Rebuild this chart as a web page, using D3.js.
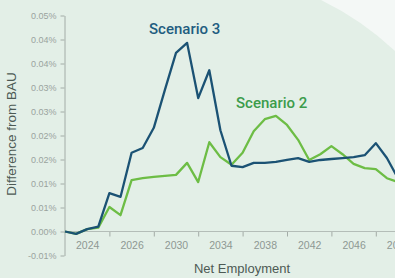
<!DOCTYPE html>
<meta charset="utf-8">
<script src="https://d3js.org/d3.v7.min.js"></script>
<style>
  body { margin: 0; background: #f4f8f6; }
  svg { display: block; font-family: "Liberation Sans", Arial, sans-serif; }
</style>
<div id="chart"></div>
<script>

// years on the x axis (one point per year)
var years = [2022, 2023, 2024, 2025, 2026, 2027, 2028, 2029, 2030, 2031,
             2032, 2033, 2034, 2035, 2036, 2037, 2038, 2039, 2040, 2041,
             2042, 2043, 2044, 2045, 2046, 2047, 2048, 2049, 2050, 2051, 2052]

// difference from BAU, in percent
var scenario3 = [0.0000, -0.0005, 0.0005, 0.0010, 0.0080, 0.0072, 0.0164, 0.0174, 0.0216, 0.0295,
                 0.0372, 0.0393, 0.0278, 0.0336, 0.0211, 0.0137, 0.0134, 0.0143, 0.0143, 0.0145,
                 0.0149, 0.0153, 0.0145, 0.0149, 0.0151, 0.0153, 0.0155, 0.0159, 0.0184, 0.0153, 0.0111]

var scenario2 = [0.0000, -0.0005, 0.0005, 0.0008, 0.0051, 0.0034, 0.0107, 0.0111, 0.0114, 0.0116,
                 0.0118, 0.0143, 0.0103, 0.0186, 0.0155, 0.0139, 0.0164, 0.0209, 0.0234, 0.0241,
                 0.0222, 0.0191, 0.0149, 0.0161, 0.0178, 0.0161, 0.0141, 0.0132, 0.0130, 0.0111, 0.0103]

// axis labels as printed on the chart
var xLabelYears = [2024, 2028, 2032, 2036, 2040, 2044, 2048, 2052]
var xLabels = ["2024", "2026", "2030", "2034", "2038", "2042", "2046", "2050"]
var xTickYears = [2026, 2030, 2034, 2038, 2042, 2046, 2050]

var yTicks = [-0.005, 0, 0.005, 0.01, 0.015, 0.02, 0.025, 0.03, 0.035, 0.04, 0.045]
var yLabels = ["-0.01%", "0.00%", "0.01%", "0.01%", "0.02%", "0.02%", "0.03%", "0.03%", "0.04%", "0.04%", "0.05%"]

var W = 395, H = 278

var svg = d3.select("#chart").append("svg")
    .attr("width", W)
    .attr("height", H)

// mint panel with rounded top-right corner
svg.append("path")
    .attr("d", "M0,0 L321,0 A300,300 0 0 1 395,51 L395," + H + " L0," + H + " Z")
    .attr("fill", "#e3efe7")

var x = d3.scaleLinear()
    .domain([2022, 2052])
    .range([65, 398])

var y = d3.scaleLinear()
    .domain([-0.005, 0.045])
    .range([255.5, 15.5])

// x axis along zero line, labels only
var xAxis = svg.append("g")
    .attr("transform", "translate(0," + y(0) + ")")
    .call(d3.axisBottom(x)
        .tickValues(xLabelYears)
        .tickFormat(function(d, i) { return xLabels[i] })
        .tickSize(0)
        .tickPadding(10))
xAxis.select(".domain").remove()
xAxis.selectAll("text")
    .attr("fill", "#8e9893")
    .style("font-size", "10.5px")

// tick marks between labels
var xMarks = svg.append("g")
    .attr("transform", "translate(0," + y(0) + ")")
    .call(d3.axisBottom(x)
        .tickValues(xTickYears)
        .tickFormat("")
        .tickSize(5))
xMarks.select(".domain").remove()
xMarks.selectAll("line").attr("stroke", "#a3aca7")

svg.append("line")
    .attr("x1", x(2022)).attr("x2", W)
    .attr("y1", y(0)).attr("y2", y(0))
    .attr("stroke", "#b4bdb8")

// y axis
var yAxis = svg.append("g")
    .attr("transform", "translate(64.5,0)")
    .call(d3.axisLeft(y)
        .tickValues(yTicks)
        .tickFormat(function(d, i) { return yLabels[i] })
        .tickSize(4)
        .tickSizeOuter(0)
        .tickPadding(4))
yAxis.select(".domain").attr("stroke", "#a3aca7")
yAxis.selectAll("line").attr("stroke", "#a3aca7")
yAxis.selectAll("text")
    .attr("fill", "#9aa39e")
    .style("font-size", "9px")

// lines
var line = function(vals) {
  return d3.line()
      .x(function(d, i) { return x(years[i]) })
      .y(function(d) { return y(d) })(vals)
}

svg.append("path")
    .attr("d", line(scenario2))
    .attr("fill", "none")
    .attr("stroke", "#6dbd45")
    .attr("stroke-width", 2.3)
    .attr("stroke-linejoin", "round")

svg.append("path")
    .attr("d", line(scenario3))
    .attr("fill", "none")
    .attr("stroke", "#1b5274")
    .attr("stroke-width", 2.3)
    .attr("stroke-linejoin", "round")

// series labels
svg.append("text")
    .attr("x", 149).attr("y", 34)
    .attr("fill", "#1f5d80")
    .style("font-family", "Roboto, sans-serif")
    .style("font-size", "15px")
    .style("font-weight", "500")
    .text("Scenario 3")

svg.append("text")
    .attr("x", 236).attr("y", 108)
    .attr("fill", "#3c9c4c")
    .style("font-family", "Roboto, sans-serif")
    .style("font-size", "15px")
    .style("font-weight", "500")
    .text("Scenario 2")

// axis titles
svg.append("text")
    .attr("transform", "translate(16,134) rotate(-90)")
    .attr("text-anchor", "middle")
    .attr("fill", "#4d5a54")
    .style("font-size", "13.5px")
    .text("Difference from BAU")

svg.append("text")
    .attr("x", 242).attr("y", 273)
    .attr("text-anchor", "middle")
    .attr("fill", "#4d5a54")
    .style("font-size", "13px")
    .text("Net Employment")

</script>
